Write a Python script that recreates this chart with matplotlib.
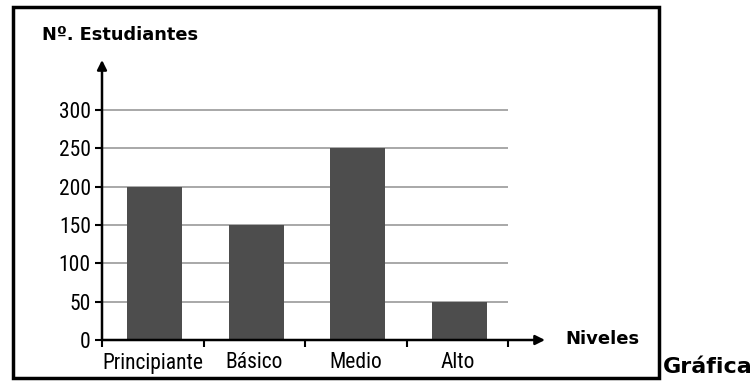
import matplotlib.pyplot as plt
from matplotlib import font_manager
from matplotlib.patches import Rectangle

# data
niveles = ["Principiante", "Básico", "Medio", "Alto"]
estudiantes = [200, 150, 250, 50]
yticks = [0, 50, 100, 150, 200, 250, 300]

W, H = 755, 383
fig = plt.figure(figsize=(W / 100, H / 100), dpi=100)

# pick a narrow face for the tick labels if one is there
names = {f.name for f in font_manager.fontManager.ttflist}
narrow = [n for n in ["Liberation Sans Narrow", "Roboto Condensed", "DejaVu Sans Condensed",
                      "Open Sans Condensed"] if n in names]
lab_font = narrow[:1] + ["DejaVu Sans"]
bold_font = ["DejaVu Sans"]

# axes placed in pixel coords: x from 102 to 545, y from 340 (0) up to 60
x0, x1 = 102, 545
y0, y1 = 340, 60
ax = fig.add_axes([x0 / W, 1 - y0 / H, (x1 - x0) / W, (y0 - y1) / H])
ax.set_xlim(-0.5, -0.5 + (x1 - x0) / 101.5)
ax.set_ylim(0, (y0 - y1) / (230 / 300))

pos = list(range(len(niveles)))
ax.hlines(yticks[1:], -0.5, len(niveles) - 0.5, color="#999999", lw=1.2, zorder=1)
ax.bar([p + 0.02 for p in pos], estudiantes, width=0.54, color="#4d4d4d", zorder=2)

for s in ax.spines.values():
    s.set_visible(False)

# axis arrows
ax.annotate("", xy=(0, 1), xytext=(0, 0), xycoords="axes fraction",
            arrowprops=dict(arrowstyle="-|>", color="black", lw=1.8,
                            mutation_scale=14, shrinkA=0, shrinkB=0))
ax.annotate("", xy=(1, 0), xytext=(0, 0), xycoords="axes fraction",
            arrowprops=dict(arrowstyle="-|>", color="black", lw=1.8,
                            mutation_scale=14, shrinkA=0, shrinkB=0))

ax.set_yticks(yticks)
ax.set_yticklabels([str(v) for v in yticks], family=lab_font,
                   stretch="condensed", fontsize=15.5)
ax.tick_params(axis="y", length=5, width=1.5, pad=3)

# x ticks between categories, labels centred under bars
ax.set_xticks([p - 0.5 for p in pos] + [len(niveles) - 0.5])
ax.set_xticklabels([])
ax.set_xticks(pos, minor=True)
ax.set_xticklabels(niveles, minor=True, family=lab_font,
                   stretch="condensed", fontsize=15.5)
ax.tick_params(axis="x", which="major", length=5, width=1.5, direction="out")
ax.tick_params(axis="x", which="minor", length=0, pad=9)

fig.text(42 / W, 1 - 35 / H, "Nº. Estudiantes", family=bold_font,
         fontweight="bold", fontsize=12.8, va="center", ha="left")
fig.text(565 / W, 1 - 339 / H, "Niveles", family=bold_font,
         fontweight="bold", fontsize=13, va="center", ha="left")
fig.text(663 / W, 1 - 367 / H, "Gráfica", family=bold_font,
         fontweight="bold", fontsize=16, va="center", ha="left")

fig.patches.append(Rectangle((13 / W, 1 - 378 / H), (659 - 13) / W, (378 - 7) / H,
                             transform=fig.transFigure, fill=False,
                             edgecolor="black", lw=2.5))

fig.savefig("out.png", dpi=100)
